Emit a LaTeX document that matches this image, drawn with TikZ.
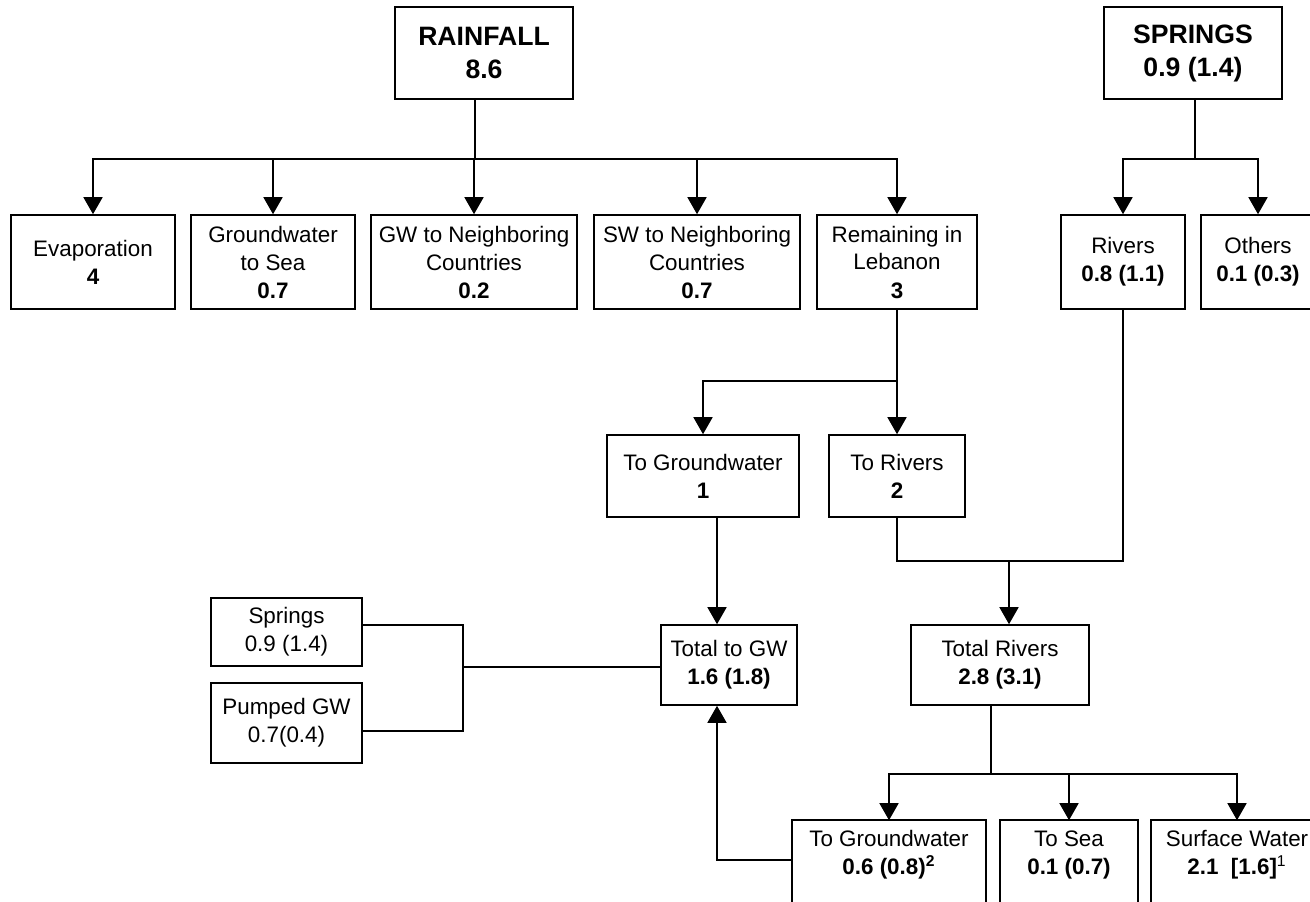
\documentclass[tikz,border=0pt]{standalone}
\usepackage{fontspec}
\setmainfont{Liberation Sans}
\usepackage{tikz}
\usetikzlibrary{arrows.meta}

\begin{document}
\begin{tikzpicture}[
    x=0.5pt, y=-0.5pt,
    line width=0.8pt,
    box/.style={rectangle, draw, line width=0.8pt, inner sep=1pt, align=center, minimum height=47pt, font=\fontsize{11.2}{14}\selectfont},
    headbox/.style={box, minimum height=46pt, font=\fontsize{13.3}{16.5}\selectfont\bfseries},
    cutbox/.style={box, draw=none, minimum height=34pt},
    flow/.style={-{Triangle[length=8.5pt, width=9.5pt]}},
]
\useasboundingbox (0,0) rectangle (1310,901);
\clip (0,0) rectangle (1310,901);

\node[headbox, minimum width=89pt] (rain) at (484,53) {RAINFALL\\8.6};
\node[headbox, minimum width=89pt] (spr) at (1193,53) {SPRINGS\\0.9 (1.4)};

\node[box, minimum width=82pt] (evap) at (93,262) {Evaporation\\\textbf{4}};
\node[box, minimum width=82pt] (gwsea) at (273,262) {Groundwater\\to Sea\\\textbf{0.7}};
\node[box, minimum width=103pt] (gwnb) at (474,262) {GW to Neighboring\\Countries\\\textbf{0.2}};
\node[box, minimum width=103pt] (swnb) at (697,262) {SW to Neighboring\\Countries\\\textbf{0.7}};
\node[box, minimum width=80pt] (remain) at (897,262) {Remaining in\\Lebanon\\\textbf{3}};
\node[box, minimum width=62pt] (rivers) at (1123,262) {Rivers\\\textbf{0.8 (1.1)}};
\node[box, minimum width=57pt] (others) at (1258,262) {Others\\\textbf{0.1 (0.3)}};

\node[box, minimum width=96pt, minimum height=41pt] (togw) at (703,476) {To Groundwater\\\textbf{1}};
\node[box, minimum width=68pt, minimum height=41pt] (toriv) at (897,476) {To Rivers\\\textbf{2}};

\node[box, minimum width=68pt, minimum height=40pt] (totgw) at (729,665) {Total to GW\\\textbf{1.6 (1.8)}};
\node[box, minimum width=89pt, minimum height=40pt] (totriv) at (1000,665) {Total Rivers\\\textbf{2.8 (3.1)}};

\node[box, minimum width=75.5pt, minimum height=34pt] (springs) at (286.5,632) {Springs\\0.9 (1.4)};
\node[box, minimum width=75.5pt, minimum height=40pt] (pumped) at (286.5,723) {Pumped GW\\0.7(0.4)};

\node[cutbox, minimum width=96pt] (bgw) at (889,855) {To Groundwater\\\textbf{0.6 (0.8)\textsuperscript{2}}};
\node[cutbox, minimum width=68pt] (bsea) at (1069,855) {To Sea\\\textbf{0.1 (0.7)}};
\node[cutbox, minimum width=85pt] (bsw) at (1237,855) {Surface Water\\\textbf{2.1\ \ [1.6]}\textsuperscript{1}};
\foreach \b in {bgw,bsea,bsw}
    \draw ([yshift=-30pt]\b.south west) -- (\b.north west) -- (\b.north east) -- ([yshift=-30pt]\b.south east);

% Rainfall split
\coordinate (rainjoin) at (475,159);
\draw (rain.south -| rainjoin) -- (rainjoin);
\foreach \t in {evap,gwsea,gwnb,swnb,remain}
    \draw[flow] (rainjoin) -| (\t.north);

% Springs split
\coordinate (sprjoin) at (1195,159);
\draw (spr.south -| sprjoin) -- (sprjoin);
\foreach \t in {rivers,others}
    \draw[flow] (sprjoin) -| (\t.north);

% Remaining in Lebanon
\coordinate (remjoin) at (897,381);
\draw (remain.south) -- (remjoin);
\draw[flow] (remjoin) -| (togw.north);
\draw[flow] (remjoin) -- (toriv.north);

\coordinate (gwline) at (717,0);
\draw[flow] (togw.south -| gwline) -- (totgw.north -| gwline);

\coordinate (gwmerge) at (463,667);
\draw ([yshift=3.5pt]springs.east) -| (gwmerge) |- ([yshift=-4pt]pumped.east);
\draw (gwmerge) -- (totgw.west |- gwmerge);

\coordinate (rivjoin) at (1009,561);
\draw (toriv.south) |- (rivjoin) -| (rivers.south);
\draw[flow] (rivjoin) -- (totriv.north -| rivjoin);

% Total rivers split
\coordinate (trjoin) at (991,774);
\draw (totriv.south -| trjoin) -- (trjoin);
\foreach \t in {bgw,bsea,bsw}
    \draw[flow] (trjoin) -| (\t.north);

\draw[flow] ([yshift=-2.5pt]bgw.west) -| (totgw.south -| gwline);

\end{tikzpicture}
\end{document}
